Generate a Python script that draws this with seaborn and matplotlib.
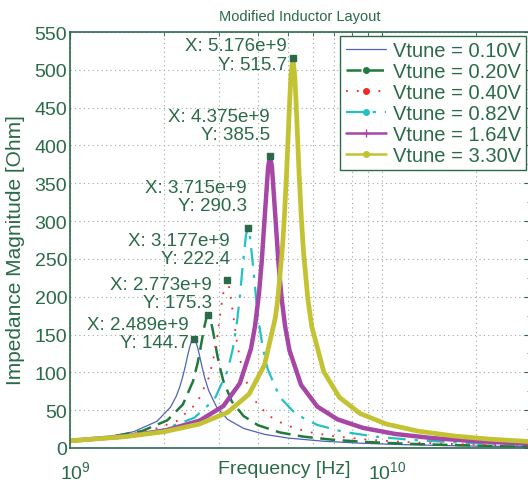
import numpy as np
import pandas as pd
import seaborn as sns
import matplotlib
matplotlib.use('Agg')
import matplotlib.pyplot as plt
import matplotlib.transforms as mtransforms
from matplotlib.lines import Line2D
from matplotlib.ticker import MultipleLocator, LogLocator

################################################################################
# data (frequency in GHz, impedance in Ohm)

labels = ['Vtune = 0.10V', 'Vtune = 0.20V', 'Vtune = 0.40V',
          'Vtune = 0.82V', 'Vtune = 1.64V', 'Vtune = 3.30V']

f_010 = [1.0, 1.3, 1.6, 1.9, 2.1, 2.19, 2.25, 2.302, 2.35, 2.384, 2.42, 2.454, 2.489,
         2.524, 2.56, 2.599, 2.65, 2.70, 2.78, 2.95, 3.2, 3.6, 4.2, 5.0, 6.5, 8.5,
         11, 15, 20, 30]
z_010 = [9.51, 14.23, 21.55, 35.3, 54.1, 68.4, 81.4, 95.7, 111.0, 122.8, 134.0, 141.8, 144.7,
         141.8, 134.0, 122.6, 106.9, 93.2, 76.3, 54.1, 37.8, 25.9, 18.04, 13.12, 8.92, 6.37,
         4.75, 3.40, 2.52, 1.66]

f_020 = [1.0, 1.35, 1.7, 2.05, 2.3, 2.48, 2.565, 2.6, 2.657, 2.69, 2.734, 2.773, 2.812,
         2.86, 2.895, 2.96, 3.009, 3.1, 3.3, 3.6, 4.0, 4.7, 5.6, 7, 9, 12, 16, 22, 30]
z_020 = [9.50, 14.60, 22.35, 36.6, 57.6, 88.5, 112.6, 124.9, 146.6, 159.0, 171.4, 175.3, 171.5,
         158.5, 146.5, 124.1, 109.6, 88.6, 61.4, 42.2, 30.2, 20.6, 15.0, 10.76, 7.80, 5.60,
         4.10, 2.94, 2.14]

f_040 = [1.0, 1.4, 1.8, 2.2, 2.55, 2.78, 2.875, 2.95, 3.07, 3.132, 3.177, 3.222, 3.29,
         3.42, 3.511, 3.62, 3.9, 4.3, 4.9, 5.8, 7, 9, 12, 16, 22, 30]
z_040 = [9.50, 14.85, 22.6, 35.7, 59.2, 92.4, 116.1, 141.5, 194.0, 216.7, 222.4, 216.9, 193.1,
         142.0, 116.1, 94.2, 63.2, 43.4, 30.2, 21.2, 15.52, 10.97, 7.75, 5.63, 4.01, 2.92]

f_082 = [1.0, 1.5, 2.0, 2.5, 2.9, 3.2, 3.325, 3.42, 3.492, 3.58, 3.663, 3.715, 3.767,
         3.86, 3.953, 4.03, 4.15, 4.3, 4.7, 5.3, 6.2, 7.5, 9.5, 12.5, 17, 23, 30]
z_082 = [9.50, 15.78, 24.75, 39.9, 63.9, 102.4, 131.4, 163.4, 195.6, 242.8, 281.6, 290.3, 281.9,
         240.2, 195.2, 165.3, 131.7, 104.2, 67.2, 44.6, 30.5, 21.44, 15.10, 10.67, 7.52,
         5.43, 4.12]

f_164 = [1.0, 1.5, 2.0, 2.6, 3.1, 3.5, 3.8, 3.916, 4.03, 4.1125, 4.21, 4.314, 4.375,
         4.436, 4.55, 4.655, 4.76, 4.887, 5.05, 5.5, 6.2, 7.2, 8.7, 11, 14.5, 19, 24, 30]
z_164 = [9.50, 15.30, 22.74, 36.06, 55.5, 85.4, 131.1, 161.1, 203.5, 245.5, 308.1, 371.6, 385.5,
         372.0, 305.8, 245.0, 199.6, 161.4, 129.0, 83.4, 54.8, 37.8, 26.5, 18.6, 13.08,
         9.58, 7.43, 5.87]

f_330 = [1.0, 1.5, 2.0, 2.6, 3.2, 3.75, 4.2, 4.55, 4.6325, 4.8, 4.865, 4.943, 5.0, 5.047,
         5.104, 5.176, 5.248, 5.305, 5.36, 5.419, 5.507, 5.6, 5.782, 5.95, 6.5, 7.3, 8.5,
         10.3, 13, 17, 22, 30]
z_330 = [9.49, 14.96, 21.47, 31.7, 47.1, 71.4, 109.8, 172.5, 196.8, 267.9, 307.0, 363.9, 411.7,
         451.6, 492.9, 515.7, 493.5, 454.0, 410.4, 364.3, 306.4, 259.4, 197.2, 160.8, 101.0,
         66.9, 45.6, 31.75, 22.36, 15.87, 11.78, 8.41]

# data tips at the peaks
tip_f = [2.489, 2.773, 3.177, 3.715, 4.375, 5.176]
tip_z = [144.7, 175.3, 222.4, 290.3, 385.5, 515.7]
# text offset of each tip from its marker, pixels
tip_dx = [-5, 4, 3, -1, 0, -6]
tip_dy = [5, 22, 30, 32, 31, 3]

################################################################################

green = '#2a6a48'
sns.set_style('white')
plt.rcParams['font.family'] = ['Liberation Sans', 'DejaVu Sans']
plt.rcParams['mathtext.fontset'] = 'custom'
plt.rcParams['mathtext.rm'] = 'Liberation Sans'
plt.rcParams['mathtext.it'] = 'Liberation Sans'

styles = [
    dict(color='#4f62b8', lw=0.9, ls='-', mk=None, ms=0),
    dict(color='#1f7a3c', lw=1.8, ls=(0, (6, 3)), mk='.', ms=8),
    dict(color='#f02828', lw=1.3, ls=(0, (1, 5)), mk='.', ms=8),
    dict(color='#22c2c2', lw=1.6, ls=(0, (8, 4, 1.5, 4)), mk='.', ms=8),
    dict(color='#a646a6', lw=3.2, ls='-', mk='+', ms=6),
    dict(color='#c2c232', lw=3.4, ls='-', mk='o', ms=4),
]
freqs = [f_010, f_020, f_040, f_082, f_164, f_330]
imps = [z_010, z_020, z_040, z_082, z_164, z_330]

fig = plt.figure(figsize=(5.28, 4.85), dpi=100)
ax = fig.add_axes([70/528, 36/485, 461/528, 416/485])

for f, z, st in zip(freqs, imps, styles):
    df = pd.DataFrame({'freq': np.array(f)*1e9, 'imp': z})
    sns.lineplot(data=df, x='freq', y='imp', ax=ax, color=st['color'],
                 linewidth=st['lw'], linestyle=st['ls'], sort=True)

ax.set_xscale('log')
ax.set_xlim(1e9, 3e10)
ax.set_ylim(0, 550)
ax.yaxis.set_major_locator(MultipleLocator(50))
ax.yaxis.set_minor_locator(MultipleLocator(25))
ax.xaxis.set_minor_locator(LogLocator(base=10, subs=np.arange(2, 10)))
ax.grid(True, which='major', ls=(0, (1, 3)), color='#9aa8a0', lw=0.8)
ax.grid(True, which='minor', axis='x', ls=(0, (1, 3)), color='#9aa8a0', lw=0.8)
ax.tick_params(which='both', direction='in', colors=green, top=True, right=True,
               labelsize=14)
ax.tick_params(which='major', length=5, width=0.8)
ax.tick_params(which='minor', length=3, width=0.6)
ax.tick_params(axis='y', pad=2)
ax.tick_params(axis='x', pad=9)
shift = mtransforms.ScaledTranslation(5/100, 0, fig.dpi_scale_trans)
for t in ax.get_xticklabels():
    t.set_transform(t.get_transform() + shift)
for s in ax.spines.values():
    s.set_color(green)
    s.set_linewidth(1.2)
ax.set_xlabel('')
ax.set_ylabel('')

# data tips
for f, z, dx, dy in zip(tip_f, tip_z, tip_dx, tip_dy):
    ax.plot([f*1e9], [z], marker='s', ms=5, color=green, ls='none', zorder=5)
    ax.annotate('X: %.3fe+9\nY: %.1f' % (f, z), xy=(f*1e9, z),
                xytext=(dx, dy), textcoords='offset pixels',
                ha='right', va='center', multialignment='right',
                fontsize=13.5, color=green, linespacing=1.1, zorder=6)

fig.text(300/528, 1-17/485, 'Modified Inductor Layout', ha='center', va='center',
         fontsize=10.5, color=green)
fig.text(284/528, 1-470/485, 'Frequency [Hz]', ha='center', va='center',
         fontsize=14, color=green)
fig.text(16/528, 1-250/485, 'Impedance Magnitude [Ohm]', ha='center', va='center',
         rotation=90, fontsize=15, color=green)

handles = []
for st in styles:
    handles.append(Line2D([0], [0], color=st['color'], lw=min(st['lw'], 1.8),
                          ls=st['ls'], marker=st['mk'], ms=st['ms'] if st['mk'] else 0))
leg = ax.legend(handles, labels, loc='upper right',
                bbox_to_anchor=(526/528, 1-37/485), bbox_transform=fig.transFigure,
                fontsize=14.5, labelspacing=0.1, handlelength=2.0, handletextpad=0.35,
                borderpad=0.25, borderaxespad=0, fancybox=False, framealpha=1)
leg.get_frame().set_edgecolor(green)
leg.get_frame().set_linewidth(1.0)
for t in leg.get_texts():
    t.set_color(green)

fig.savefig('out.png', dpi=100)
